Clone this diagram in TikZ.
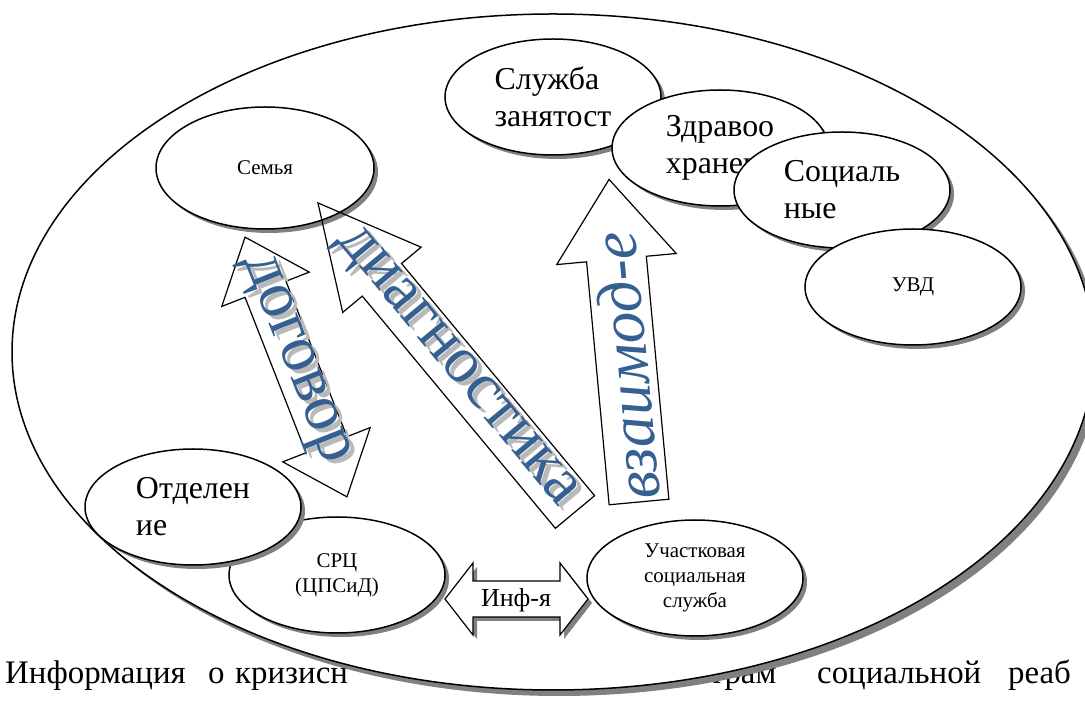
\documentclass[tikz,border=0pt]{standalone}
\usepackage{fontspec}
\setmainfont{Liberation Serif}
\usetikzlibrary{shapes,shadows}
\definecolor{artblue}{RGB}{54,96,146}
\definecolor{artgray}{RGB}{185,185,185}
\newcommand{\fsz}[2]{\fontsize{#1}{#2}\selectfont}

\begin{document}
\begin{tikzpicture}[line join=miter]
      \tikzstyle{every node}=[inner sep=0pt]
      \tikzstyle{oval}=[ellipse, draw, line width=1.5bp, fill=white, minimum width=216bp, minimum height=116bp, drop shadow={shadow xshift=4bp, shadow yshift=-4bp, fill=black!50, opacity=1}]
      \tikzstyle{bigoval}=[ellipse, draw, line width=1.5bp, fill=white, minimum width=1082bp, minimum height=676bp, drop shadow={shadow xshift=6bp, shadow yshift=-6bp, fill=black!50, opacity=1}]
      \tikzstyle{small}=[font=\fsz{21}{25}, align=center]
      \tikzstyle{big}=[font=\fsz{32}{37}, align=left]
      \tikzstyle{pagetext}=[font=\fsz{33}{40}, anchor=base west]
      \tikzstyle{blockarrow}=[draw, line width=1.2bp]
      \tikzstyle{art}=[text=artblue, font=\fsz{66}{66}]
      \tikzstyle{artshadow}=[text=artgray, font=\fsz{66}{66}]
      %%
  \useasboundingbox (0bp,0bp) rectangle (1085bp,711bp);
  \node (w1) [pagetext] at (5bp,28bp) {Информация};
  \node (w2) [pagetext] at (208bp,28bp) {о};
  \node (w3) [pagetext] at (235bp,28bp) {кризисн};
  \node (w4) [pagetext] at (692bp,28bp) {нтрам};
  \node (w5) [pagetext] at (817bp,28bp) {социальной};
  \node (w6) [pagetext] at (1008bp,28bp) {реаб};
  \node (outer) [bigoval] at (553bp,359bp) {};
  \node (sluzhba) [oval,big] at (553bp,614bp) {Служба\\занятост};
  \node (zdrav) [oval,big] at (720bp,563bp) {Здравоо\\хранен};
  \node (social) [oval,big] at (842bp,521bp) {Социаль\\ные};
  \node (uvd) [oval,small] at (913bp,424bp) {УВД};
  \node (semya) [oval,small,minimum width=218bp,minimum height=122bp] at (265bp,543bp) {Семья};
  \node (src) [oval,small] at (337bp,136bp) {СРЦ\\(ЦПСиД)};
  \node (otdel) [oval,big] at (193bp,204bp) {Отделен\\ие};
  \node (uchastok) [oval,small] at (695bp,133bp) {Участковая\\социальная\\служба};
  %
  \begin{scope}[shift={(296bp,344bp)}, rotate=111.43]
    \draw [blockarrow] (-139.5bp,0bp) -- (-83.5bp,47bp) -- (-83.5bp,22bp) -- (83.5bp,22bp) -- (83.5bp,47bp) -- (139.5bp,0bp) -- (83.5bp,-47bp) -- (83.5bp,-22bp) -- (-83.5bp,-22bp) -- (-83.5bp,-47bp) -- cycle;
  \end{scope}
  \begin{scope}[shift={(575bp,199bp)}, rotate=129.75]
    \draw [blockarrow] (0bp,-25.5bp) -- (302bp,-25.5bp) -- (302bp,-51bp) -- (402bp,0bp) -- (302bp,51bp) -- (302bp,25.5bp) -- (0bp,25.5bp) -- cycle;
  \end{scope}
  \begin{scope}[shift={(639bp,209bp)}, rotate=95.3]
    \draw [blockarrow] (0bp,-30bp) -- (244bp,-30bp) -- (244bp,-60bp) -- (324bp,0bp) -- (244bp,60bp) -- (244bp,30bp) -- (0bp,30bp) -- cycle;
  \end{scope}
  \begin{scope}[shift={(516.5bp,112bp)}]
    \filldraw [blockarrow, fill=white, drop shadow={shadow xshift=4bp, shadow yshift=-4bp, fill=black!50, opacity=1}] (-71.5bp,0bp) -- (-43.5bp,36bp) -- (-43.5bp,18bp) -- (43.5bp,18bp) -- (43.5bp,36bp) -- (71.5bp,0bp) -- (43.5bp,-36bp) -- (43.5bp,-18bp) -- (-43.5bp,-18bp) -- (-43.5bp,-36bp) -- cycle;
  \end{scope}
  %
  \node (dogovorS) [artshadow, rotate=-68.57] at (298bp,347bp) {договор};
  \node (dogovor) [art, rotate=-68.57] at (293bp,351bp) {договор};
  \node (diagS) [artshadow, rotate=-50.25] at (460bp,339bp) {диагностика};
  \node (diag) [art, rotate=-50.25] at (455bp,343bp) {диагностика};
  \node (vzaim) [art, font=\fsz{64}{64}\itshape, rotate=95.3] at (626bp,345bp) {взаимод-е};
  \node (info) [font=\fsz{26}{30}] at (516bp,111bp) {Инф-я};
%
\end{tikzpicture}
\end{document}
